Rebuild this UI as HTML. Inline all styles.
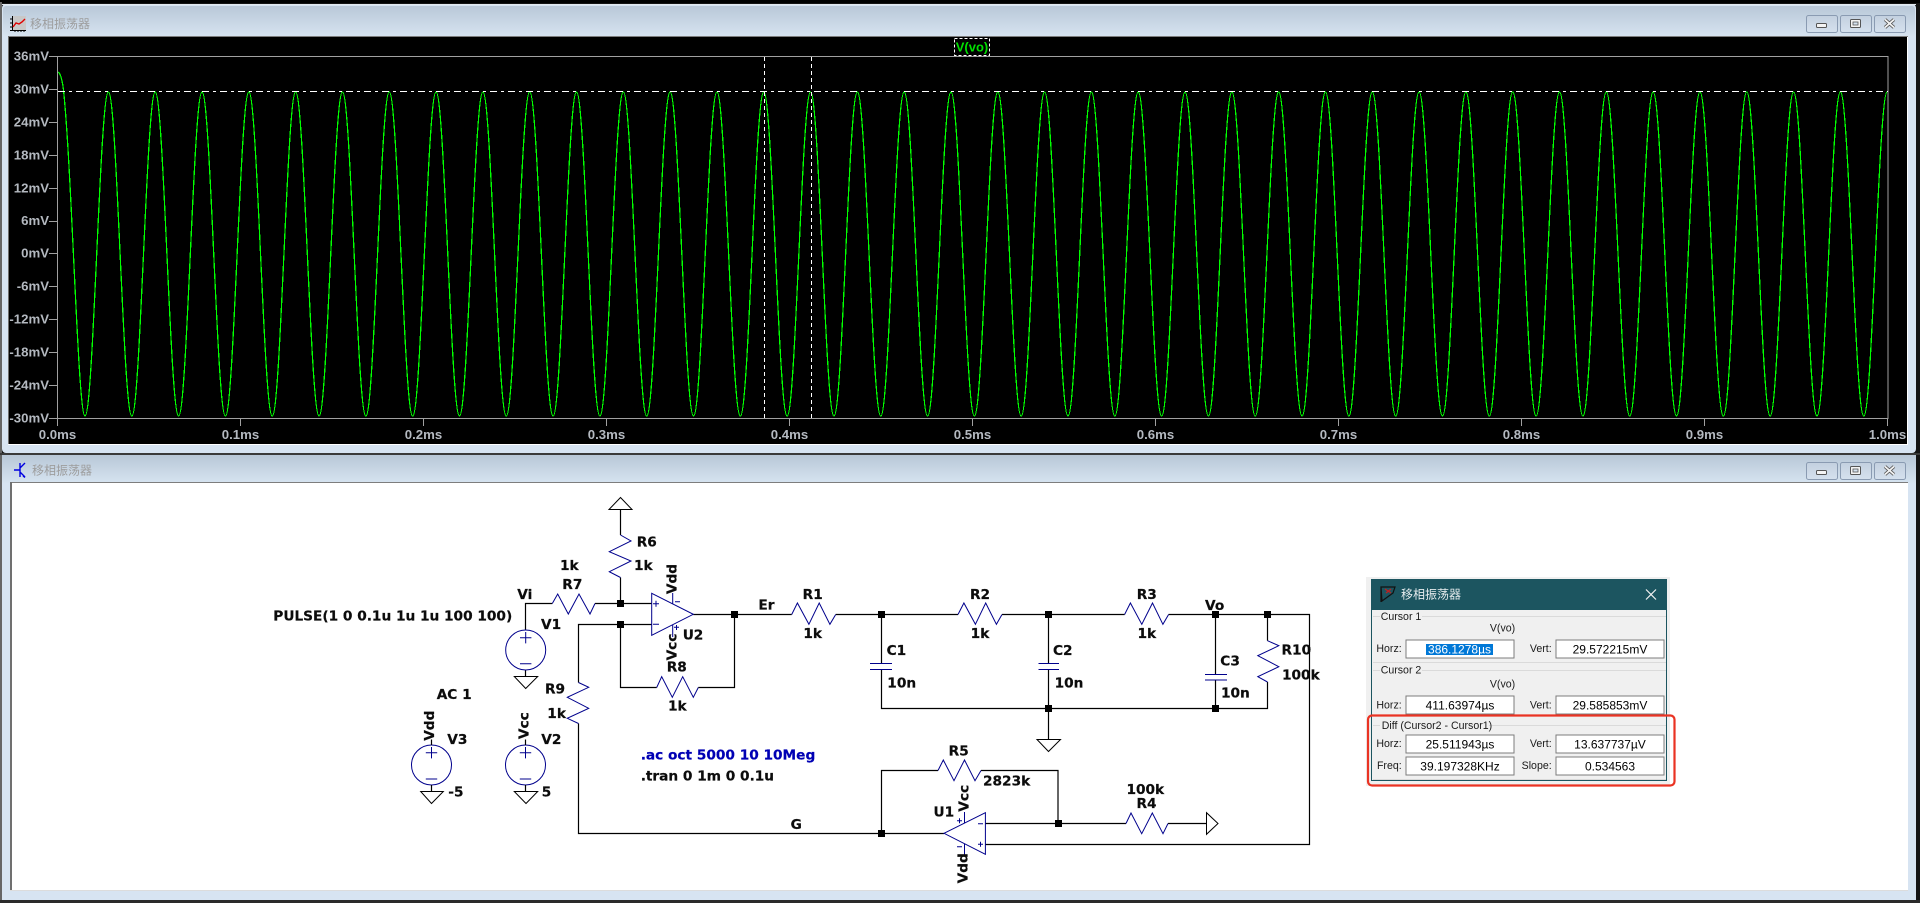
<!DOCTYPE html>
<html lang="zh">
<head>
<meta charset="utf-8">
<title>移相振荡器</title>
<style>
html,body{margin:0;padding:0;width:1920px;height:903px;overflow:hidden;background:#000}
svg{display:block}
.ax{font:bold 13.2px "Liberation Sans",sans-serif;fill:#b4b9c0;dominant-baseline:central}
.tt{font:12px "Liberation Sans","Noto Sans CJK SC",sans-serif;fill:#9d9d9d;dominant-baseline:central}
.s{font:bold 13.7px "DejaVu Sans",sans-serif;fill:#0c0c0c;stroke:#0c0c0c;stroke-width:.22;dominant-baseline:central}
.d{font:10.6px "Liberation Sans",sans-serif;fill:#1a1a1a;dominant-baseline:central}
.v{font:12px "Liberation Sans",sans-serif;fill:#000;dominant-baseline:central;text-anchor:middle}
.w{fill:none;stroke:#000;stroke-width:1.2}
.p{fill:none;stroke:#00008c;stroke-width:1}
.j{fill:#000}
</style>
</head>
<body>
<svg xmlns="http://www.w3.org/2000/svg" width="1920" height="903" viewBox="0 0 1920 903">
<defs>
<linearGradient id="t1" gradientUnits="userSpaceOnUse" x1="0" y1="5" x2="0" y2="36"><stop offset="0" stop-color="#b8c7d7"/><stop offset="1" stop-color="#d6e3f0"/></linearGradient>
<linearGradient id="t2" gradientUnits="userSpaceOnUse" x1="0" y1="455" x2="0" y2="483"><stop offset="0" stop-color="#b8c7d7"/><stop offset="1" stop-color="#d6e3f0"/></linearGradient>
<linearGradient id="b" x1="0" y1="0" x2="0" y2="1"><stop offset="0" stop-color="#c3d0df"/><stop offset="1" stop-color="#d5e1ee"/></linearGradient>
<clipPath id="pc"><rect x="58" y="57" width="1830" height="362"/></clipPath>
<g id="btns">
<rect x="1806.5" y="15.5" width="31" height="17" rx="2" fill="url(#b)" stroke="#8a9bb2"/>
<rect x="1840.5" y="15.5" width="31" height="17" rx="2" fill="url(#b)" stroke="#8a9bb2"/>
<rect x="1874.5" y="15.5" width="31" height="17" rx="2" fill="url(#b)" stroke="#8a9bb2"/>
<rect x="1816.5" y="23.5" width="10" height="4" rx="1" fill="#f4f4f4" stroke="#555"/>
<rect x="1850.5" y="19.5" width="10" height="8" rx="1" fill="#f4f4f4" stroke="#555"/>
<rect x="1853" y="22" width="5" height="3" fill="#d6e3f0" stroke="#555" stroke-width=".8"/>
<path d="M1885 19.5l9 8M1894 19.5l-9 8" stroke="#555" stroke-width="3.4"/>
<path d="M1885 19.5l9 8M1894 19.5l-9 8" stroke="#f4f4f4" stroke-width="1.8"/>
</g>
</defs>

<rect width="1920" height="903" fill="#141414"/>
<rect x="0" y="0" width="1920" height="3" fill="#000"/>
<rect x="0" y="2" width="2" height="901" fill="#666"/>

<!-- Top window -->
<rect x="2" y="4" width="1914" height="449" rx="4" fill="#d7e4f2"/>
<rect x="3" y="6" width="1912" height="30" rx="3" fill="url(#t1)"/>
<rect x="2" y="4" width="1914" height="1" fill="#e2e8ef"/>
<rect x="8" y="36" width="1900" height="1" fill="#7d7d7d"/>
<rect x="8" y="36" width="1" height="408" fill="#6e6e6e"/>
<rect x="9" y="37" width="1898" height="407" fill="#000"/>
<rect x="8" y="444" width="1900" height="1" fill="#fff"/>
<rect x="1907" y="37" width="1" height="408" fill="#fff"/>
<rect x="0" y="453" width="1920" height="2" fill="#3a3a3a"/>

<!-- plot icon -->
<rect x="12" y="16" width="14" height="14" fill="#c8c8c8"/>
<path d="M12.5 16v15M10 30.5h16M10 19h3M10 23h3M10 27h3M15 30v2M18 30v2M21 30v2M24 30v2" stroke="#000" fill="none"/>
<path d="M13 27l3-4 3 1 3-2 3-3" stroke="#e00000" stroke-width="1.4" fill="none"/>
<text class="tt" x="30" y="24">移相振荡器</text>
<use href="#btns"/>

<!-- Plot axes -->
<g stroke="#a0a0a0" fill="none" shape-rendering="crispEdges">
<rect x="57.5" y="56.5" width="1830.5" height="362"/>
<path d="M49 56.5h9M49 89.5h9M49 122.5h9M49 155.5h9M49 188.5h9M49 221.5h9M49 253.5h9M49 286.5h9M49 319.5h9M49 352.5h9M49 385.5h9M49 418.5h9"/>
<path d="M57.5 418v8M240.5 418v8M423.5 418v8M606.5 418v8M789.5 418v8M972.5 418v8M1155.5 418v8M1338.5 418v8M1521.5 418v8M1704.5 418v8M1887.5 418v8"/>
</g>
<g class="ax" text-anchor="end">
<text class="ax" x="49" y="56">36mV</text>
<text class="ax" x="49" y="89">30mV</text>
<text class="ax" x="49" y="122">24mV</text>
<text class="ax" x="49" y="155">18mV</text>
<text class="ax" x="49" y="188">12mV</text>
<text class="ax" x="49" y="220.5">6mV</text>
<text class="ax" x="49" y="253">0mV</text>
<text class="ax" x="49" y="286">-6mV</text>
<text class="ax" x="49" y="319">-12mV</text>
<text class="ax" x="49" y="352">-18mV</text>
<text class="ax" x="49" y="385">-24mV</text>
<text class="ax" x="49" y="418">-30mV</text>
</g>
<g text-anchor="middle">
<text class="ax" x="57.5" y="434.5">0.0ms</text>
<text class="ax" x="240.5" y="434.5">0.1ms</text>
<text class="ax" x="423.5" y="434.5">0.2ms</text>
<text class="ax" x="606.5" y="434.5">0.3ms</text>
<text class="ax" x="789.5" y="434.5">0.4ms</text>
<text class="ax" x="972.5" y="434.5">0.5ms</text>
<text class="ax" x="1155.5" y="434.5">0.6ms</text>
<text class="ax" x="1338.5" y="434.5">0.7ms</text>
<text class="ax" x="1521.5" y="434.5">0.8ms</text>
<text class="ax" x="1704.5" y="434.5">0.9ms</text>
<text class="ax" x="1887.5" y="434.5">1.0ms</text>
</g>

<!-- Trace -->
<g clip-path="url(#pc)">
<path fill="none" stroke="#00ff00" stroke-width="1.25" shape-rendering="crispEdges" d="M58,72C60,73 62,78 63.5,90C72,170 78,416 85,416c8.524,0 14.881,-324 23.405,-324
c8.524,0 14.881,324 23.405,324c8.524,0 14.881,-324 23.405,-324
c8.524,0 14.881,324 23.405,324c8.524,0 14.881,-324 23.405,-324
c8.524,0 14.881,324 23.405,324c8.524,0 14.881,-324 23.405,-324
c8.524,0 14.881,324 23.405,324c8.524,0 14.881,-324 23.405,-324
c8.524,0 14.881,324 23.405,324c8.524,0 14.881,-324 23.405,-324
c8.524,0 14.881,324 23.405,324c8.524,0 14.881,-324 23.405,-324
c8.524,0 14.881,324 23.405,324c8.524,0 14.881,-324 23.405,-324
c8.524,0 14.881,324 23.405,324c8.524,0 14.881,-324 23.405,-324
c8.524,0 14.881,324 23.405,324c8.524,0 14.881,-324 23.405,-324
c8.524,0 14.881,324 23.405,324c8.524,0 14.881,-324 23.405,-324
c8.524,0 14.881,324 23.405,324c8.524,0 14.881,-324 23.405,-324
c8.524,0 14.881,324 23.405,324c8.524,0 14.881,-324 23.405,-324
c8.524,0 14.881,324 23.405,324c8.524,0 14.881,-324 23.405,-324
c8.524,0 14.881,324 23.405,324c8.524,0 14.881,-324 23.405,-324
c8.524,0 14.881,324 23.405,324c8.524,0 14.881,-324 23.405,-324
c8.524,0 14.881,324 23.405,324c8.524,0 14.881,-324 23.405,-324
c8.524,0 14.881,324 23.405,324c8.524,0 14.881,-324 23.405,-324
c8.524,0 14.881,324 23.405,324c8.524,0 14.881,-324 23.405,-324
c8.524,0 14.881,324 23.405,324c8.524,0 14.881,-324 23.405,-324
c8.524,0 14.881,324 23.405,324c8.524,0 14.881,-324 23.405,-324
c8.524,0 14.881,324 23.405,324c8.524,0 14.881,-324 23.405,-324
c8.524,0 14.881,324 23.405,324c8.524,0 14.881,-324 23.405,-324
c8.524,0 14.881,324 23.405,324c8.524,0 14.881,-324 23.405,-324
c8.524,0 14.881,324 23.405,324c8.524,0 14.881,-324 23.405,-324
c8.524,0 14.881,324 23.405,324c8.524,0 14.881,-324 23.405,-324
c8.524,0 14.881,324 23.405,324c8.524,0 14.881,-324 23.405,-324
c8.524,0 14.881,324 23.405,324c8.524,0 14.881,-324 23.405,-324
c8.524,0 14.881,324 23.405,324c8.524,0 14.881,-324 23.405,-324
c8.524,0 14.881,324 23.405,324c8.524,0 14.881,-324 23.405,-324
c8.524,0 14.881,324 23.405,324c8.524,0 14.881,-324 23.405,-324
c8.524,0 14.881,324 23.405,324c8.524,0 14.881,-324 23.405,-324
c8.524,0 14.881,324 23.405,324c8.524,0 14.881,-324 23.405,-324
c8.524,0 14.881,324 23.405,324c8.524,0 14.881,-324 23.405,-324
c8.524,0 14.881,324 23.405,324c8.524,0 14.881,-324 23.405,-324
c8.524,0 14.881,324 23.405,324c8.524,0 14.881,-324 23.405,-324
c8.524,0 14.881,324 23.405,324c8.524,0 14.881,-324 23.405,-324
c8.524,0 14.881,324 23.405,324c8.524,0 14.881,-324 23.405,-324
c8.524,0 14.881,324 23.405,324c8.524,0 14.881,-324 23.405,-324"/>
</g>
<!-- Cursors -->
<g stroke="#fff" fill="none" shape-rendering="crispEdges">
<path d="M58 91.5H1888" stroke-dasharray="7 4 3 4"/>
<path d="M764.5 57V418M811.5 57V418" stroke-dasharray="4 3"/>
<rect x="954.5" y="38.5" width="35" height="17" stroke-dasharray="3 2"/>
</g>
<text x="972" y="47" text-anchor="middle" dominant-baseline="central" style="font:bold 13px 'Liberation Sans',sans-serif;fill:#00e000">V(vo)</text>

<!-- Bottom window -->
<rect x="2" y="455" width="1914" height="445" fill="#d7e4f2"/>
<rect x="2" y="455" width="1914" height="28" fill="url(#t2)"/>
<rect x="10" y="482" width="1898" height="1" fill="#7d7d7d"/>
<rect x="10" y="482" width="2" height="408" fill="#707070"/>
<rect x="12" y="483" width="1896" height="407" fill="#fff"/>
<rect x="10" y="890" width="1898" height="1" fill="#dcdcdc"/>
<rect x="0" y="900" width="1920" height="3" fill="#2a2a2a"/>
<path d="M14 470h6M20 463v14M20 468l5-5M20 472l5 5M23 476l2 1.5" stroke="#0000e0" stroke-width="1.4" fill="none"/>
<text class="tt" x="32" y="470.5">移相振荡器</text>
<use href="#btns" y="447"/>

<!-- Wires -->
<g class="w">
<path d="M620.5 509.5V535"/>
<path d="M620.5 577.5V603.5"/>
<path d="M595 603.5H651.5"/>
<path d="M552.3 603.5H525.5V630"/>
<path d="M525.5 670V676"/>
<path d="M651.5 624.5H578.5V682.5"/>
<path d="M578.5 723.5V833.5H944"/>
<path d="M620.5 624.5V687.5H656.7"/>
<path d="M698.3 687.5H734.5V614.5"/>
<path d="M693.3 614.5H791.7"/>
<path d="M835.7 614.5H958"/>
<path d="M1002 614.5H1124.6"/>
<path d="M1168.6 614.5H1309.5V844.5H985.4"/>
<path d="M881.5 614.5V663.5"/>
<path d="M881.5 669.5V708.5H1267.5V682"/>
<path d="M1048.5 614.5V663.5"/>
<path d="M1048.5 669.5V739"/>
<path d="M1215.5 614.5V674.5"/>
<path d="M1215.5 680V708.5"/>
<path d="M1267.5 614.5V640.7"/>
<path d="M881.5 833.5V770.5H938"/>
<path d="M981 770.5H1058V823.5"/>
<path d="M985.4 823.5H1126"/>
<path d="M1168 823.5H1206"/>
</g>

<!-- Power/ground symbols -->
<g fill="#fff" stroke="#000" stroke-width="1">
<path d="M620.5 497.5L632 509.5H609Z"/>
<path d="M514.3 676.5H537.7L525.7 688.5Z"/>
<path d="M420.7 791.5H443.3L431.5 803.5Z"/>
<path d="M514.3 791.5H537.7L526 803.5Z"/>
<path d="M1037 739.5H1060.5L1048.5 751.5Z"/>
<path d="M1206.5 812.7V834.3L1218 823.5Z"/>
</g>

<!-- Resistors -->
<g class="p">
<path d="M620.5 535L631 541 609.3 551.7 631 561 609.3 571.7 620.5 577.5"/>
<path d="M595 603.5L590 614 579 594 568.3 614 557.7 594 552.3 603.5"/>
<path d="M578.5 682.5L588.7 687.3 567.3 697.3 588.7 708.3 567.3 718.3 578.5 723.5"/>
<path d="M656.7 687.5L661.7 676.7 672.3 697.3 682.7 676.7 693.3 697.3 698.3 687.5"/>
<path d="M791.7 614.5L797.4 603 808.9 624.3 819.2 603 829.9 624.3 835.7 614.5"/>
<path d="M958 614.5L963.9 603 975.4 624.3 985.7 603 996.4 624.3 1002 614.5"/>
<path d="M1124.6 614.5L1130.4 603 1141.8 624.3 1152.5 603 1162.9 624.3 1168.6 614.5"/>
<path d="M1267.5 640.7L1278.8 645.7 1257.8 655.7 1278.8 666.7 1257.8 676.7 1267.5 682"/>
<path d="M938 770.5L943.3 760 954 780.7 964.5 760 975 780.7 981 770.5"/>
<path d="M1126 823.5L1131 813 1141.7 833.7 1152.3 813 1163 833.7 1168 823.5"/>
<!-- Capacitors -->
<path d="M870 663.5H892M870 669.5H892"/>
<path d="M1038.5 663.5H1059M1038.5 669.5H1059"/>
<path d="M1205 674.5H1227M1205 680H1227"/>
<!-- Opamps -->
<path d="M651.7 593.3V635.3L693.3 614.3Z"/>
<path d="M653 603.7h6M656 600.7v6M653 624.3h6"/>
<path d="M672.7 603.9V593M675 601.7h5M672.7 624.8V637M674 627.3h5M676.5 625v5"/>
<path d="M944 833.3L985.4 812.7V854.3Z"/>
<path d="M978 823.7h5M978 844.3h5M980.5 841.8v5"/>
<path d="M964.5 823V812M957 820.7h5M959.5 818.2v5M964.5 844V855M957 846.7h5"/>
<!-- Sources -->
<circle cx="525.7" cy="650" r="20"/>
<path d="M520 637.7h11.4M525.7 632v11.4M520 663.7h11.4"/>
<circle cx="431.5" cy="765" r="20"/>
<path d="M425.8 752.7h11.4M431.5 747v11.4M425.8 779h11.4"/>
<circle cx="525.5" cy="765" r="20"/>
<path d="M519.8 752.7h11.4M525.5 747v11.4M519.8 779h11.4"/>
</g>
<g class="w">
<path d="M431.5 785V791.5M431.5 745V739.5M525.5 785V791.5M525.5 745V739.5"/>
</g>

<!-- Junctions -->
<g class="j">
<rect x="617" y="600" width="7" height="7"/>
<rect x="617" y="621" width="7" height="7"/>
<rect x="731" y="611" width="7" height="7"/>
<rect x="878" y="611" width="7" height="7"/>
<rect x="1045" y="611" width="7" height="7"/>
<rect x="1212" y="611" width="7" height="7"/>
<rect x="1264" y="611" width="7" height="7"/>
<rect x="1045" y="705" width="7" height="7"/>
<rect x="1212" y="705" width="7" height="7"/>
<rect x="878" y="830" width="7" height="7"/>
<rect x="1055" y="820" width="7" height="7"/>
</g>

<!-- Schematic labels -->
<text class="s" x="273.3" y="616.7">PULSE(1 0 0.1u 1u 1u 100 100)</text>
<text class="s" x="517.3" y="595">Vi</text>
<text class="s" x="560" y="566">1k</text>
<text class="s" x="562.3" y="585">R7</text>
<text class="s" x="636.7" y="542.7">R6</text>
<text class="s" x="634" y="566">1k</text>
<text class="s" text-anchor="middle" transform="translate(672.7 579) rotate(-90)">Vdd</text>
<text class="s" text-anchor="middle" transform="translate(672.7 647) rotate(-90)">Vcc</text>
<text class="s" x="682.7" y="635.7">U2</text>
<text class="s" x="541" y="625">V1</text>
<text class="s" x="666.7" y="667.7">R8</text>
<text class="s" x="668" y="706.7">1k</text>
<text class="s" x="545" y="689.3">R9</text>
<text class="s" x="547.3" y="714">1k</text>
<text class="s" x="436.7" y="695">AC 1</text>
<text class="s" text-anchor="middle" transform="translate(430 725.7) rotate(-90)">Vdd</text>
<text class="s" x="447.3" y="740">V3</text>
<text class="s" x="448.3" y="792.3">-5</text>
<text class="s" text-anchor="middle" transform="translate(524.3 725.7) rotate(-90)">Vcc</text>
<text class="s" x="541.3" y="740">V2</text>
<text class="s" x="541.7" y="792.3">5</text>
<text class="s" x="640.7" y="755.7" style="fill:#0000b4;stroke:#0000b4">.ac oct 5000 10 10Meg</text>
<text class="s" x="640.7" y="776.7">.tran 0 1m 0 0.1u</text>
<text class="s" x="758.4" y="605.7">Er</text>
<text class="s" x="812.7" y="595" text-anchor="middle">R1</text>
<text class="s" x="812.7" y="634" text-anchor="middle">1k</text>
<text class="s" x="980" y="595" text-anchor="middle">R2</text>
<text class="s" x="980" y="634" text-anchor="middle">1k</text>
<text class="s" x="1146.8" y="595" text-anchor="middle">R3</text>
<text class="s" x="1146.8" y="634" text-anchor="middle">1k</text>
<text class="s" x="1214.6" y="606" text-anchor="middle">Vo</text>
<text class="s" x="886.6" y="651">C1</text>
<text class="s" x="887.3" y="683.3">10n</text>
<text class="s" x="1053" y="651">C2</text>
<text class="s" x="1054.6" y="683.3">10n</text>
<text class="s" x="1220.3" y="661.7">C3</text>
<text class="s" x="1221" y="693.3">10n</text>
<text class="s" x="1281.5" y="650.7">R10</text>
<text class="s" x="1282" y="675.3">100k</text>
<text class="s" x="958.7" y="751.7" text-anchor="middle">R5</text>
<text class="s" x="983" y="781.7">2823k</text>
<text class="s" x="1145.3" y="790" text-anchor="middle">100k</text>
<text class="s" x="1146.5" y="804" text-anchor="middle">R4</text>
<text class="s" x="796.3" y="825" text-anchor="middle">G</text>
<text class="s" x="933.5" y="812.7">U1</text>
<text class="s" text-anchor="middle" transform="translate(964.5 798.3) rotate(-90)">Vcc</text>
<text class="s" text-anchor="middle" transform="translate(963.5 868.3) rotate(-90)">Vdd</text>

<!-- Cursor dialog -->
<rect x="1366" y="577" width="304" height="209" fill="#000" opacity=".06"/>
<rect x="1371.5" y="579.5" width="295" height="201" fill="#f0f0f0" stroke="#1c5560"/>
<rect x="1372" y="579" width="295" height="31" fill="#1c5560"/>
<path d="M1381 587h14l-2 6-11 8zM1381 587v15" fill="none" stroke="#111" stroke-width="1.2"/>
<path d="M1385 589l6 4M1391 589l-5 4" stroke="#c02020" fill="none" stroke-width="1.2"/>
<text x="1401" y="594.5" dominant-baseline="central" style="font:12px 'Liberation Sans','Noto Sans CJK SC',sans-serif;fill:#e6ecee">移相振荡器</text>
<path d="M1646 589.5l10 10M1656 589.5l-10 10" stroke="#f0f0f0" stroke-width="1.2" fill="none"/>

<g stroke="#dadada" fill="none" shape-rendering="crispEdges">
<path d="M1373 616.5h7M1422 616.5h244M1373 662.5h293M1373 670.5h7M1422 670.5h244M1373 725.5h7M1489 725.5h177M1373 779.5h293"/>
</g>
<text class="d" x="1380.7" y="617">Cursor 1</text>
<text class="d" x="1502.5" y="628.3" text-anchor="middle">V(vo)</text>
<text class="d" x="1401.7" y="649" text-anchor="end">Horz:</text>
<text class="d" x="1551.7" y="649" text-anchor="end">Vert:</text>
<text class="d" x="1380.7" y="670.7">Cursor 2</text>
<text class="d" x="1502.5" y="684.3" text-anchor="middle">V(vo)</text>
<text class="d" x="1401.7" y="705.5" text-anchor="end">Horz:</text>
<text class="d" x="1551.7" y="705.5" text-anchor="end">Vert:</text>
<text class="d" x="1381.7" y="726">Diff (Cursor2 - Cursor1)</text>
<text class="d" x="1401.7" y="744" text-anchor="end">Horz:</text>
<text class="d" x="1551.7" y="744" text-anchor="end">Vert:</text>
<text class="d" x="1401.7" y="766" text-anchor="end">Freq:</text>
<text class="d" x="1551.7" y="766" text-anchor="end">Slope:</text>

<g fill="#fff" stroke="#7c7c7c" stroke-width="1.4" shape-rendering="crispEdges">
<rect x="1406" y="640" width="108" height="18"/>
<rect x="1556" y="640" width="108" height="18"/>
<rect x="1406" y="696" width="108" height="18"/>
<rect x="1556" y="696" width="108" height="18"/>
<rect x="1406" y="735" width="108" height="18"/>
<rect x="1556" y="735" width="108" height="18"/>
<rect x="1406" y="757" width="108" height="18"/>
<rect x="1556" y="757" width="108" height="18"/>
</g>
<rect x="1426" y="644" width="67" height="11" fill="#0078d7"/>
<text class="v" x="1459.5" y="649.5" style="fill:#fff">386.1278µs</text>
<text class="v" x="1610" y="649.5">29.572215mV</text>
<text class="v" x="1460" y="705.5">411.63974µs</text>
<text class="v" x="1610" y="705.5">29.585853mV</text>
<text class="v" x="1460" y="744.5">25.511943µs</text>
<text class="v" x="1610" y="744.5">13.637737µV</text>
<text class="v" x="1460" y="766.5">39.197328KHz</text>
<text class="v" x="1610" y="766.5">0.534563</text>

<rect x="1368" y="715.5" width="306.5" height="70" rx="4" fill="none" stroke="#ea3323" stroke-width="2.2"/>
</svg>
</body>
</html>
